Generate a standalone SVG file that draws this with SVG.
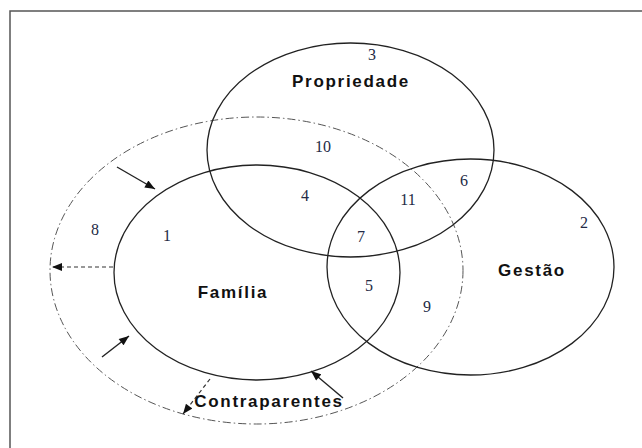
<svg xmlns="http://www.w3.org/2000/svg" width="642" height="448" viewBox="0 0 642 448">
  <style>
    .set { fill: none; stroke: #222; stroke-width: 1.3; }
    .outer { fill: none; stroke: #555; stroke-width: 1; stroke-dasharray: 8 3 1.5 3; }
    .label { font-family: "Liberation Sans", Arial, sans-serif; font-weight: bold; font-size: 17px; letter-spacing: 1.7px; fill: #111; text-anchor: middle; }
    .num { font-family: "Liberation Serif", "Times New Roman", serif; font-size: 16px; fill: #232a45; text-anchor: middle; }
    .arrow { stroke: #222; stroke-width: 1.4; fill: none; }
    .arrow-dash { stroke: #333; stroke-width: 1.2; fill: none; stroke-dasharray: 4 3; }
  </style>
  <defs>
    <marker id="head" viewBox="0 0 10 8" refX="10" refY="4" markerWidth="11" markerHeight="8" markerUnits="userSpaceOnUse" orient="auto">
      <path d="M0,0 L10,4 L0,8 Z" fill="#111"/>
    </marker>
  </defs>

  <rect width="642" height="448" fill="#fff"/>
  <!-- frame: only left and top edges fall inside the canvas -->
  <path d="M10,448 L10,11 L642,11" fill="none" stroke="#555" stroke-width="1.5"/>

  <!-- outer dash-dot boundary (contraparentes) -->
  <g id="contraparentes">
    <ellipse class="outer" cx="256.5" cy="270.5" rx="206.5" ry="153.5"/>
    <text class="label" x="269" y="407">Contraparentes</text>
  </g>

  <g id="propriedade">
    <ellipse class="set" cx="350.5" cy="150" rx="143.5" ry="107"/>
    <text class="label" x="351" y="87">Propriedade</text>
  </g>

  <g id="familia">
    <ellipse class="set" cx="257" cy="272.5" rx="143" ry="107.5"/>
    <text class="label" x="233" y="298">Família</text>
  </g>

  <g id="gestao">
    <ellipse class="set" cx="470.5" cy="267" rx="143.5" ry="108"/>
    <text class="label" x="532" y="276">Gestão</text>
  </g>

  <!-- region numbers -->
  <g id="regions">
    <text class="num" x="95" y="235">8</text>
    <text class="num" x="167" y="241">1</text>
    <text class="num" x="372" y="60">3</text>
    <text class="num" x="323" y="152">10</text>
    <text class="num" x="305" y="201">4</text>
    <text class="num" x="408" y="205">11</text>
    <text class="num" x="464" y="186">6</text>
    <text class="num" x="584" y="228">2</text>
    <text class="num" x="361" y="242">7</text>
    <text class="num" x="369" y="291">5</text>
    <text class="num" x="427" y="312">9</text>
  </g>

  <g id="connectors">
    <line class="arrow" x1="117" y1="167" x2="155" y2="189" marker-end="url(#head)"/>
    <line class="arrow-dash" x1="113" y1="267" x2="52" y2="267" marker-end="url(#head)"/>
    <line class="arrow" x1="102" y1="357" x2="129" y2="336" marker-end="url(#head)"/>
    <line class="arrow-dash" x1="210" y1="379" x2="183" y2="414" marker-end="url(#head)"/>
    <line class="arrow" x1="343" y1="398" x2="311" y2="371" marker-end="url(#head)"/>
  </g>
</svg>
